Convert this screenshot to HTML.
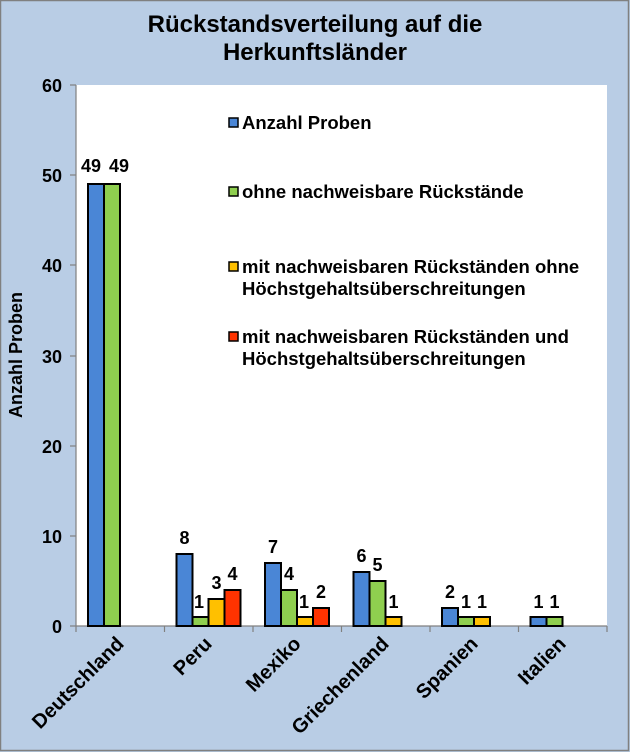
<!DOCTYPE html>
<html><head><meta charset="utf-8"><style>
html,body{margin:0;padding:0;background:#b9cde5}
svg{display:block;font-family:"Liberation Sans",Arial,sans-serif;font-weight:bold}
</style></head><body>
<svg width="630" height="752" viewBox="0 0 630 752" xmlns="http://www.w3.org/2000/svg">
<rect x="0.5" y="0.5" width="628" height="750" fill="#b9cde5" stroke="#808080" stroke-width="1.5"/>
<text x="315" y="32" text-anchor="middle" font-size="24">Rückstandsverteilung auf die</text>
<text x="315" y="60" text-anchor="middle" font-size="24">Herkunftsländer</text>
<rect x="76" y="85" width="531" height="541" fill="#fff"/>
<g stroke="#808080" stroke-width="1.2">
<line x1="76" y1="85" x2="76" y2="626"/>
<line x1="76" y1="626" x2="607" y2="626"/>
<line x1="70" y1="85" x2="76" y2="85"/><line x1="70" y1="175" x2="76" y2="175"/><line x1="70" y1="265" x2="76" y2="265"/><line x1="70" y1="356" x2="76" y2="356"/><line x1="70" y1="446" x2="76" y2="446"/><line x1="70" y1="536" x2="76" y2="536"/><line x1="70" y1="626" x2="76" y2="626"/>
<line x1="76" y1="626" x2="76" y2="632"/><line x1="164.5" y1="626" x2="164.5" y2="632"/><line x1="253" y1="626" x2="253" y2="632"/><line x1="341.5" y1="626" x2="341.5" y2="632"/><line x1="430" y1="626" x2="430" y2="632"/><line x1="518.5" y1="626" x2="518.5" y2="632"/><line x1="607" y1="626" x2="607" y2="632"/>
</g>
<g font-size="18" text-anchor="end">
<text x="62" y="92">60</text><text x="62" y="182">50</text><text x="62" y="272">40</text><text x="62" y="363">30</text><text x="62" y="453">20</text><text x="62" y="543">10</text><text x="62" y="633">0</text>
</g>
<text transform="translate(22,355) rotate(-90)" text-anchor="middle" font-size="18">Anzahl Proben</text>
<g stroke="#000" stroke-width="2">
<rect x="88" y="184" width="16" height="442" fill="#4a86d6"/>
<rect x="104" y="184" width="16" height="442" fill="#8fcf4f"/>
<rect x="176.5" y="554" width="16" height="72" fill="#4a86d6"/>
<rect x="192.5" y="617" width="16" height="9" fill="#8fcf4f"/>
<rect x="208.5" y="599" width="16" height="27" fill="#ffc000"/>
<rect x="224.5" y="590" width="16" height="36" fill="#ff3300"/>
<rect x="265" y="563" width="16" height="63" fill="#4a86d6"/>
<rect x="281" y="590" width="16" height="36" fill="#8fcf4f"/>
<rect x="297" y="617" width="16" height="9" fill="#ffc000"/>
<rect x="313" y="608" width="16" height="18" fill="#ff3300"/>
<rect x="353.5" y="572" width="16" height="54" fill="#4a86d6"/>
<rect x="369.5" y="581" width="16" height="45" fill="#8fcf4f"/>
<rect x="385.5" y="617" width="16" height="9" fill="#ffc000"/>
<rect x="442" y="608" width="16" height="18" fill="#4a86d6"/>
<rect x="458" y="617" width="16" height="9" fill="#8fcf4f"/>
<rect x="474" y="617" width="16" height="9" fill="#ffc000"/>
<rect x="530.5" y="617" width="16" height="9" fill="#4a86d6"/>
<rect x="546.5" y="617" width="16" height="9" fill="#8fcf4f"/>
</g>
<g font-size="18" text-anchor="middle">
<text x="91" y="172">49</text><text x="119" y="172">49</text>
<text x="184.5" y="544">8</text><text x="199" y="608">1</text><text x="216.5" y="589">3</text><text x="232.5" y="580">4</text>
<text x="273" y="553">7</text><text x="289" y="580">4</text><text x="304" y="608">1</text><text x="321" y="598">2</text>
<text x="361.5" y="562">6</text><text x="377.5" y="571">5</text><text x="393.5" y="608">1</text>
<text x="450" y="598">2</text><text x="466" y="608">1</text><text x="482" y="608">1</text>
<text x="538.5" y="608">1</text><text x="554.5" y="608">1</text>
</g>
<g font-size="20" text-anchor="end">
<text transform="translate(125,645) rotate(-45)">Deutschland</text>
<text transform="translate(213,645) rotate(-45)">Peru</text>
<text transform="translate(302,645) rotate(-45)">Mexiko</text>
<text transform="translate(390,645) rotate(-45)">Griechenland</text>
<text transform="translate(479,645) rotate(-45)">Spanien</text>
<text transform="translate(567,645) rotate(-45)">Italien</text>
</g>
<g stroke="#000" stroke-width="1.5">
<rect x="229" y="118" width="9" height="9" fill="#4a86d6"/>
<rect x="229" y="187" width="9" height="9" fill="#8fcf4f"/>
<rect x="229" y="262" width="9" height="9" fill="#ffc000"/>
<rect x="229" y="332" width="9" height="9" fill="#ff3300"/>
</g>
<g font-size="18.5">
<text x="242" y="129">Anzahl Proben</text>
<text x="242" y="198">ohne nachweisbare Rückstände</text>
<text x="242" y="273">mit nachweisbaren Rückständen ohne</text>
<text x="242" y="295">Höchstgehaltsüberschreitungen</text>
<text x="242" y="343">mit nachweisbaren Rückständen und</text>
<text x="242" y="365">Höchstgehaltsüberschreitungen</text>
</g>
</svg>
</body></html>
